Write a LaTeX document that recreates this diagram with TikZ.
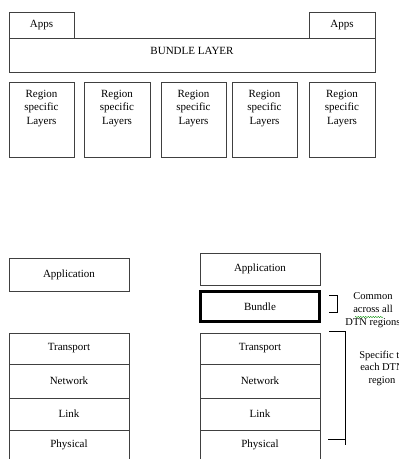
\documentclass[tikz,border=0pt]{standalone}
\usepackage{fontspec}
\setmainfont{Liberation Serif}
\usetikzlibrary{decorations.pathmorphing}
\begin{document}
\begin{tikzpicture}[x=1pt,y=-1pt,
  box/.style={draw=black!75,line width=0.9pt,inner sep=0pt,outer sep=0pt,rectangle},
  thickbox/.style={draw=black,line width=2.2pt,inner sep=0pt,outer sep=0pt,rectangle},
  txt/.style={font=\fontsize{11}{13.5}\selectfont,inner sep=0pt,align=center},
  brk/.style={draw=black,line width=0.9pt}]
\useasboundingbox (0,0) rectangle (399,459);
\clip (0,0) rectangle (399,459);
% top part
\node[box,minimum width=366pt,minimum height=34pt] (bl) at (192,55) {};
\node[txt] (blt) at (192,50.5) {BUNDLE LAYER};
\node[box,fill=white,minimum width=65pt,minimum height=26pt,txt] (appl) at (41.5,25) {Apps};
\node[box,fill=white,minimum width=66pt,minimum height=26pt,txt] (appr) at (342,25) {Apps};
\foreach \i/\x/\w in {1/41.5/65,2/117/66,3/193.5/65,4/264.5/65,5/342/66}{
  \node[box,minimum width=\w pt,minimum height=75pt] (r\i) at (\x,119.5) {};
  \node[txt,anchor=north] (rt\i) at (\x,90) {Region\\specific\\Layers};
}
% left stack
\node[box,minimum width=120pt,minimum height=33pt,txt] (lapp) at (69,274.5) {Application};
\node[box,minimum width=120pt,minimum height=31pt,txt] (ltr) at (69,348.5) {Transport};
\node[box,minimum width=120pt,minimum height=34pt,txt] (lnw) at (69,381) {Network};
\node[box,minimum width=120pt,minimum height=32pt,txt] (lln) at (69,414) {Link};
\node[box,minimum width=120pt,minimum height=34pt,txt,text depth=6pt] (lph) at (69,447) {Physical};
% right stack
\node[box,minimum width=120pt,minimum height=32pt,txt] (rapp) at (260,269) {Application};
\node[thickbox,minimum width=119pt,minimum height=30pt,txt] (rbu) at (260,306.5) {Bundle};
\node[box,minimum width=120pt,minimum height=31pt,txt] (rtr) at (260,348.5) {Transport};
\node[box,minimum width=120pt,minimum height=34pt,txt] (rnw) at (260,381) {Network};
\node[box,minimum width=120pt,minimum height=32pt,txt] (rln) at (260,414) {Link};
\node[box,minimum width=120pt,minimum height=34pt,txt,text depth=6pt] (rph) at (260,447) {Physical};
% brackets
\coordinate (b1a) at (329,295);
\coordinate (b1b) at (337,295);
\coordinate (b1c) at (337,312);
\coordinate (b1d) at (329,312);
\draw[brk] (b1a) -- (b1b) -- (b1c) -- (b1d);
\coordinate (b2a) at (329,331);
\coordinate (b2b) at (345,331);
\coordinate (b2c) at (345,445);
\coordinate (b2d) at (345,439);
\coordinate (b2e) at (328,439);
\draw[brk] (b2a) -- (b2b) -- (b2c);
\draw[brk] (b2d) -- (b2e);
\node[txt,font=\fontsize{10.5}{13}\selectfont] (common) at (373,310) {Common\\across all\\DTN regions};
\draw[green!55!black,line width=0.4pt,decorate,decoration={snake,amplitude=0.6pt,segment length=2.5pt}] (355,317) -- (383,317);
\node[txt,font=\fontsize{10.5}{12.5}\selectfont] (spec) at (382,368) {Specific to\\each DTN\\region};
\end{tikzpicture}
\end{document}
